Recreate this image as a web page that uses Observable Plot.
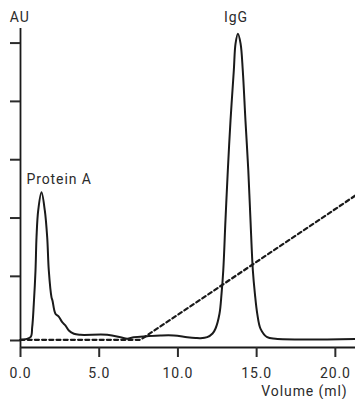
<!DOCTYPE html>
<html>
<head>
<meta charset="utf-8">
<script src="https://cdn.jsdelivr.net/npm/d3@7"></script>
<script src="https://cdn.jsdelivr.net/npm/@observablehq/plot@0.6"></script>
<style>
  html, body { margin: 0; padding: 0; background: #fff; }
</style>
</head>
<body>
<div id="chart"></div>
<script>
// Chromatogram trace (Volume in ml, absorbance in arbitrary units)
const volume = [0, 0.635, 0.743, 0.845, 0.953, 1.017, 1.125, 1.334, 1.544, 1.696, 1.798, 1.97, 2.03, 2.22, 2.43, 2.65, 2.86, 3.07, 3.39, 3.81, 5.51, 6.35, 6.78, 7.2, 8.05, 8.89, 9.74, 10.59, 11.12, 11.44, 11.86, 12.2, 12.39, 12.64, 12.77, 12.88, 13.02, 13.17, 13.34, 13.55, 13.66, 13.81, 13.98, 14.12, 14.29, 14.47, 14.61, 14.76, 14.89, 15.04, 15.25, 15.67, 16.2, 21.28];
const absorbance = [1.2, 5.7, 22.8, 63, 120, 177, 223, 254, 223, 177, 120, 74, 68.6, 45.8, 41, 31.4, 25.7, 17.2, 11.5, 9.8, 9.8, 5.7, 2.9, 5.7, 7.4, 8.6, 8.6, 5.7, 4.3, 3.9, 5.7, 12, 20.6, 45.8, 80, 120, 206, 292, 377, 463, 509, 526, 509, 463, 377, 292, 206, 120, 80, 45.8, 20, 5.7, 2.9, 2.6];

// Elution gradient (dashed)
const gradientVolume = [0, 7.62, 21.28];
const gradientLevel = [1.2, 1.2, 248.7];

// Axis ticks
const xTicks = [0, 5, 10, 15, 20];
const yTicks = [0, 110, 210, 310, 410, 510];

// Peak annotations
const peakLabels = ["Protein A", "IgG"];
const peakLabelX = [0.38, 13.69];
const peakLabelY = [267.6, 547];

const trace = volume.map((v, i) => ({v, a: absorbance[i]}));
const gradient = gradientVolume.map((v, i) => ({v, a: gradientLevel[i]}));
const annotations = peakLabels.map((t, i) => ({t, x: peakLabelX[i], y: peakLabelY[i]}));

const ink = "#1a1a1a";
const textInk = "#2b2b2b";

const chart = Plot.plot({
  width: 355,
  height: 399,
  marginLeft: 20,
  marginRight: 0,
  marginTop: 28,
  marginBottom: 52,
  style: {fontFamily: "Roboto, 'Liberation Sans', sans-serif", fontSize: "14px", color: textInk, letterSpacing: "0.9px", background: "#fff"},
  x: {domain: [0, 21.28], label: null},
  y: {domain: [-12, 535], label: null},
  marks: [
    Plot.ruleX([0], {stroke: ink, strokeWidth: 1.8}),
    Plot.ruleY([-12], {stroke: ink, strokeWidth: 2}),
    Plot.axisX({ticks: xTicks, tickSize: 10, tickPadding: 11, tickFormat: d => d.toFixed(1), strokeWidth: 2, label: null}),
    Plot.axisY({ticks: yTicks, tickSize: 10, tickFormat: () => "", strokeWidth: 2, label: null}),
    Plot.line(gradient, {x: "v", y: "a", stroke: ink, strokeWidth: 2.2, strokeDasharray: "4,3.2"}),
    Plot.line(trace, {x: "v", y: "a", stroke: ink, strokeWidth: 2, curve: "catmull-rom"}),
    Plot.text(annotations.slice(0, 1), {x: "x", y: "y", text: "t", textAnchor: "start", lineAnchor: "bottom", fill: textInk, fontSize: 14}),
    Plot.text(annotations.slice(1), {x: "x", y: "y", text: "t", textAnchor: "middle", lineAnchor: "bottom", fill: textInk, fontSize: 14}),
    Plot.text(["AU"], {frameAnchor: "top-left", dx: -10.7, dy: -6.3, lineAnchor: "bottom", textAnchor: "start", fill: textInk, fontSize: 14}),
    Plot.text(["Volume (ml)"], {frameAnchor: "bottom-right", dx: -8, dy: 48, lineAnchor: "bottom", textAnchor: "end", fill: textInk, fontSize: 14})
  ]
});
document.getElementById("chart").appendChild(chart);
</script>
</body>
</html>
